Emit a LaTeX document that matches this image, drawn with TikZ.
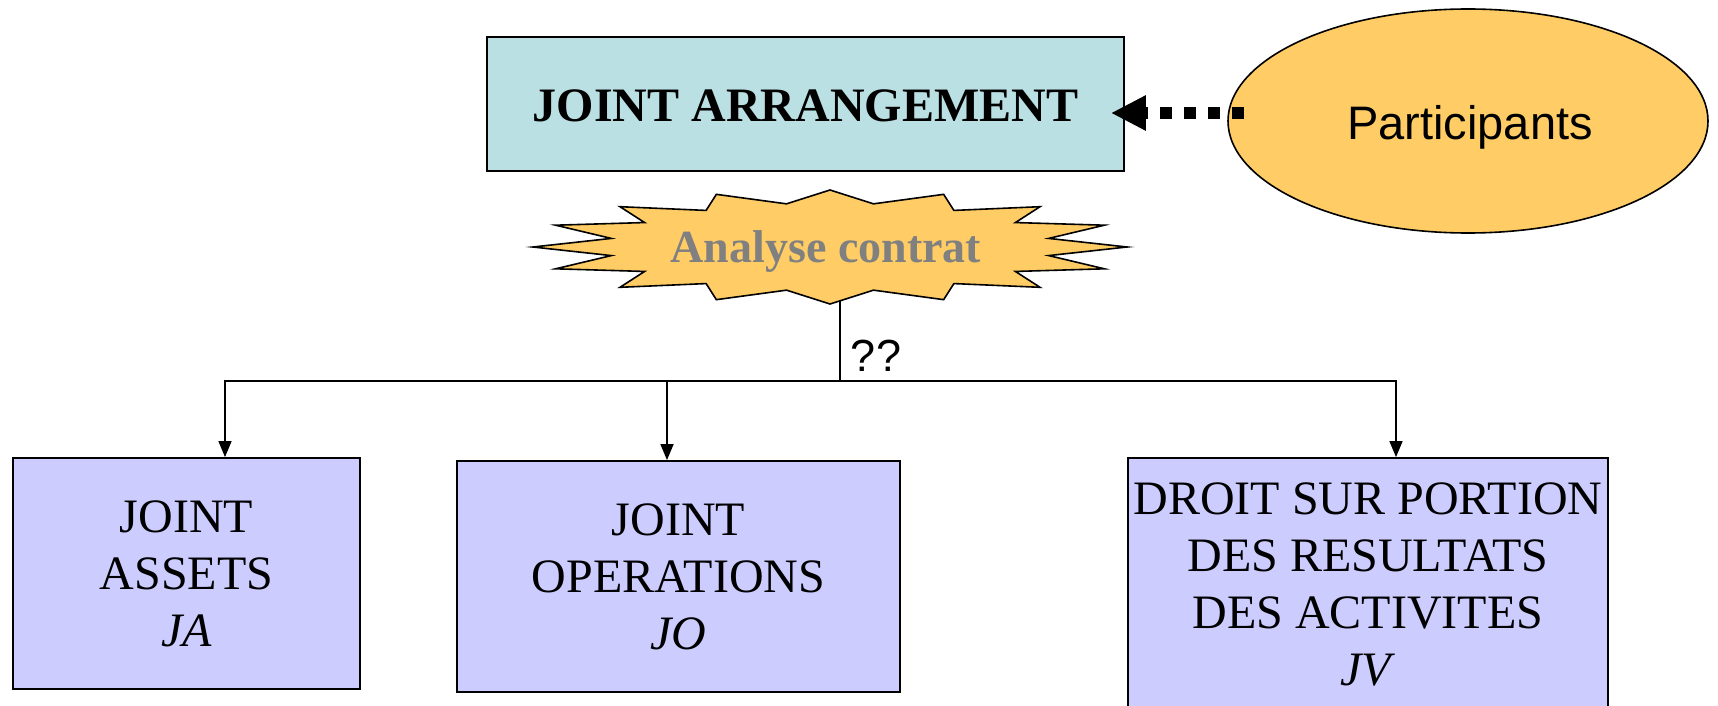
\documentclass[tikz,border=0pt]{standalone}
\usepackage{fontspec}
\setmainfont{Liberation Serif}
\setsansfont{Liberation Sans}
\usetikzlibrary{arrows.meta,shapes.geometric}
\definecolor{headfill}{HTML}{BAE0E3}
\definecolor{resultfill}{HTML}{CCCCFF}
\definecolor{goldfill}{HTML}{FFCC66}
\definecolor{labelgray}{HTML}{808080}
\tikzset{
  headbox/.style={draw, line width=1.8pt, fill=headfill, inner sep=0pt,
    minimum width=637pt, minimum height=134pt,
    font=\bfseries\fontsize{48}{57}\selectfont},
  resultbox/.style={draw, line width=1.8pt, fill=resultfill, inner sep=0pt,
    align=center, font=\fontsize{48}{57}\selectfont},
  partell/.style={ellipse, draw, line width=1.6pt, fill=goldfill, inner sep=0pt,
    minimum width=480pt, minimum height=224pt},
  partlabel/.style={inner sep=0pt, font=\sffamily\fontsize{47}{56}\selectfont},
  burst/.style={draw, line width=1.6pt, fill=goldfill, line join=miter},
  burstlabel/.style={text=labelgray, inner sep=0pt,
    font=\bfseries\fontsize{46}{55}\selectfont},
  conn/.style={line width=1.4pt, -{Triangle[length=16pt,width=13pt]}},
  dotlink/.style={line width=12pt, dash pattern=on 12pt off 12pt,
    -{Triangle[length=35pt,width=33pt]}, shorten >=-14pt},
  qlabel/.style={inner sep=0pt, font=\sffamily\fontsize{45}{54}\selectfont}
}
\begin{document}
\begin{tikzpicture}[x=1pt,y=-1pt]
\useasboundingbox (0,0) rectangle (1718,706);

% top box and the participants
\node[headbox] (arr) at (805.5,104) {};
\node (arrtext) at (805.5,106) [font=\bfseries\fontsize{48}{57}\selectfont, inner sep=0pt] {JOINT ARRANGEMENT};
\node[partell] (part) at (1468,121) {};
\node[partlabel] (parttext) at (1470,127) {Participants};
\coordinate (dotstart) at (1244,113);
\draw[dotlink] (dotstart) -- (dotstart -| arr.east);

% sixteen-point burst
\begin{scope}[shift={(830,247)}]
  \draw[burst] (90:297 and 57)
    \foreach \k in {0,...,14} {
      -- ({101.25+22.5*\k}:223 and 44) -- ({112.5+22.5*\k}:297 and 57)
    } -- (78.75:223 and 44) -- cycle;
\end{scope}
\node[burstlabel] (analyse) at (826,252) {Analyse contrat};

% three outcomes
\node[resultbox, minimum width=347pt, minimum height=231pt] (ja) at (186.5,573.5)
  {JOINT\\ASSETS\\\textit{JA}};
\node[resultbox, minimum width=443pt, minimum height=231pt] (jo) at (678.5,576.5)
  {JOINT\\OPERATIONS\\\textit{JO}};
\node[resultbox, minimum width=480pt, minimum height=252pt] (jv) at (1368,584)
  {DROIT SUR PORTION\\DES RESULTATS\\DES ACTIVITES\\\textit{JV}};

% branching connectors
\coordinate (stemtop) at (840,301);
\coordinate (fork) at (840,381);
\coordinate (jaX) at (225,0);
\coordinate (joX) at (667,0);
\coordinate (jvX) at (1396,0);
\draw[line width=1.4pt] (stemtop) -- (fork);
\draw[conn] (fork) -| (ja.north -| jaX);
\draw[conn] (fork) -| (jo.north -| joX);
\draw[conn] (fork) -| (jv.north -| jvX);
\node[qlabel] (qq) at (876,356) {??};
\end{tikzpicture}
\end{document}
